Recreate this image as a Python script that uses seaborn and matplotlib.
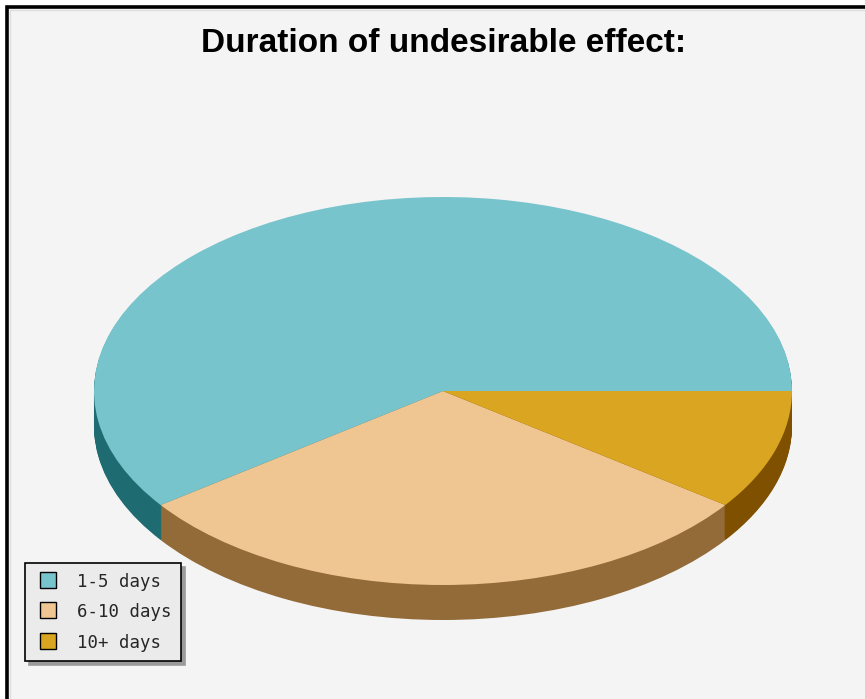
import numpy as np
import matplotlib
matplotlib.use("Agg")
import matplotlib.pyplot as plt
import seaborn as sns
from matplotlib.lines import Line2D
from matplotlib.patches import Rectangle

# Chart data
categories = ["1-5 days", "6-10 days", "10+ days"]
shares = [60, 30, 10]
top_colors = ["#78c4cc", "#efc591", "#daa520"]
side_colors = ["#1e6b72", "#936b38", "#7f5000"]
title = "Duration of undesirable effect:"

sns.set_theme(style="white")
plt.rcParams["font.family"] = ["DejaVu Sans"]

W, H = 865, 699
fig = plt.figure(figsize=(W / 100, H / 100), dpi=100, facecolor="white")

# light panel with a heavy rule along the left and top
panel = Rectangle((7 / W, -0.05), 1.2, 1 - 7 / H + 0.05, transform=fig.transFigure,
                  facecolor="#f4f4f4", edgecolor="black", linewidth=2.6, zorder=-2)
fig.add_artist(panel)
inner = Rectangle((9.5 / W, -0.05), 1.2, 1 - 9.5 / H + 0.05, transform=fig.transFigure,
                  facecolor="none", edgecolor="#dedede", linewidth=1.0, zorder=-1)
fig.add_artist(inner)

ax = fig.add_axes([0, 0, 1, 1])
ax.set_facecolor("none")

# pie geometry (pixels): centre, horizontal / vertical radius, rim depth
cx, cy, rx, ry, depth_px = 443, 391, 349, 194, 35
depth = depth_px / ry

# rim: stacked copies of the pie, shifted downward, in darker shades
for k in np.linspace(depth, 0.0, depth_px + 1)[:-1]:
    ax.pie(shares, colors=side_colors, startangle=0, counterclock=True,
           center=(0, -k), radius=1.0,
           wedgeprops=dict(linewidth=0, antialiased=True))

# top face
wedges, _ = ax.pie(shares, colors=top_colors, startangle=0, counterclock=True,
                   center=(0, 0), radius=1.0,
                   wedgeprops=dict(linewidth=0, antialiased=True))

ax.set_aspect("auto")
ax.set_xlim(-cx / rx, (W - cx) / rx)
ax.set_ylim((cy - H) / ry, cy / ry)
ax.set_axis_off()

fig.text(444 / W, 1 - 43 / H, title, ha="center", va="center",
         fontsize=24, fontweight="bold", family="Liberation Sans", color="black")

handles = [Line2D([], [], linestyle="none", marker="s", markersize=12.2,
                  markerfacecolor=c, markeredgecolor="black", markeredgewidth=1.0)
           for c in top_colors]
leg = fig.legend(handles, categories, loc="upper left",
                 bbox_to_anchor=(25 / W, 1 - 563 / H), bbox_transform=fig.transFigure,
                 borderaxespad=0, frameon=True, fancybox=False, edgecolor="black",
                 facecolor="#ebebeb", framealpha=1,
                 shadow={"ox": 3, "oy": -3, "color": "#9a9a9a", "alpha": 1.0},
                 prop={"family": "DejaVu Sans Mono", "size": 12.5},
                 handlelength=1.6, handleheight=1.0, labelspacing=0.72,
                 borderpad=0.55, handletextpad=0.85)
leg.get_frame().set_linewidth(1.2)

fig.savefig("out.png", dpi=100, facecolor=fig.get_facecolor())
